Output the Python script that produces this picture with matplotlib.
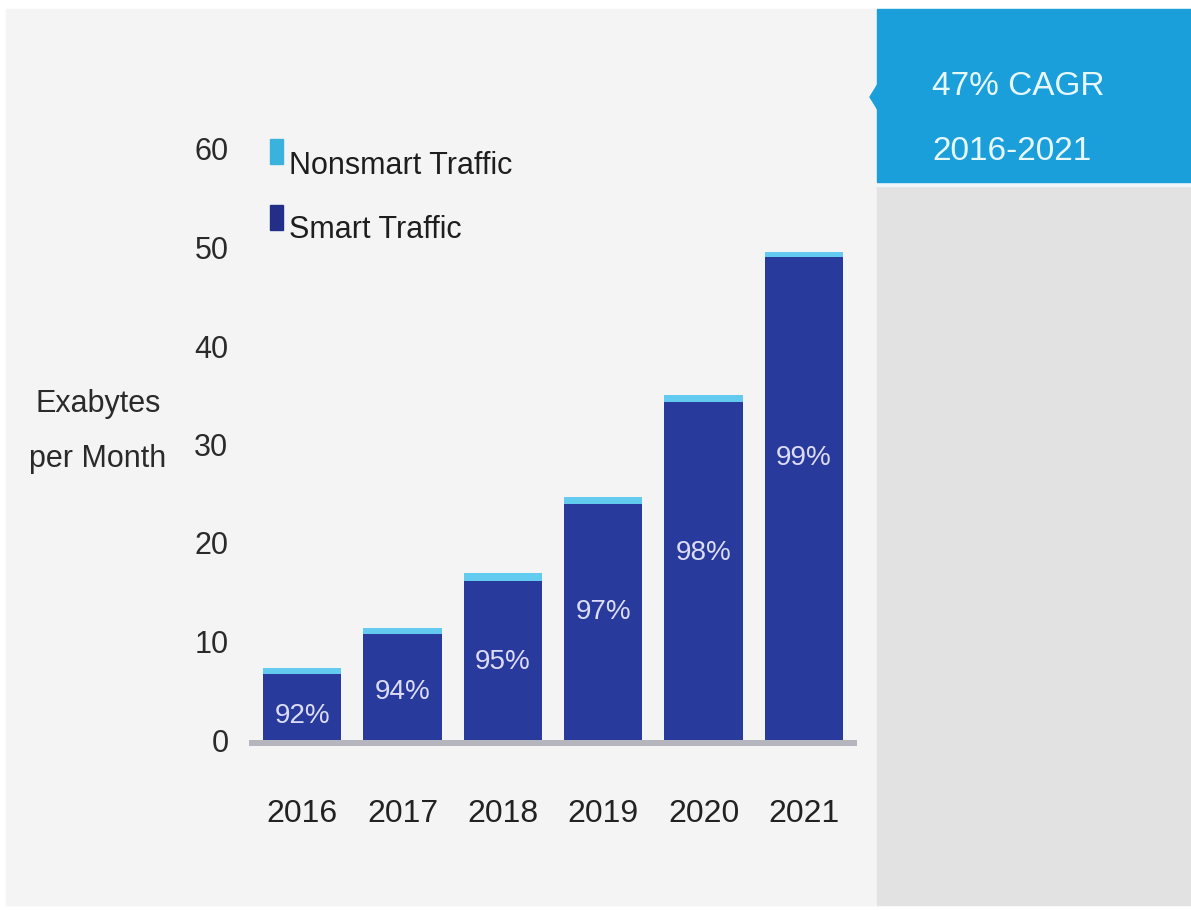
import matplotlib
matplotlib.use("Agg")
import matplotlib.pyplot as plt
from matplotlib.patches import Rectangle, Polygon

# Mobile data traffic, exabytes per month
years = ["2016", "2017", "2018", "2019", "2020", "2021"]
total_traffic = [7.3, 11.4, 17.0, 24.7, 35.0, 49.5]
smart_share_pct = [92, 94, 95, 97, 98, 99]
y_ticks = [0, 10, 20, 30, 40, 50, 60]
legend_labels = ["Nonsmart Traffic", "Smart Traffic"]
cagr_lines = ["47% CAGR", "2016-2021"]

smart = [t * p / 100 for t, p in zip(total_traffic, smart_share_pct)]
nonsmart = [t - s for t, s in zip(total_traffic, smart)]

# vertical placement of the share labels inside each bar (data units)
pct_label_y = [2.4, 4.9, 7.9, 13.0, 19.0, 28.6]

plt.rcParams["font.family"] = ["Liberation Sans", "DejaVu Sans"]

W, H = 1191, 910
fig = plt.figure(figsize=(W / 100, H / 100), dpi=100)
fig.patch.set_facecolor("white")


def fx(px):
    return px / W


def fy(py):
    return 1 - py / H


# background panels
fig.patches.append(Rectangle((fx(6), fy(905)), fx(877 - 6), (905 - 9) / H,
                             transform=fig.transFigure, color="#f4f4f4", zorder=0))
fig.patches.append(Rectangle((fx(877), fy(905)), fx(W - 877), (905 - 186) / H,
                             transform=fig.transFigure, color="#e2e2e2", zorder=0))
fig.patches.append(Rectangle((fx(877), fy(186)), fx(W - 877), 4 / H,
                             transform=fig.transFigure, color="#eef6fb", zorder=0))
fig.patches.append(Rectangle((fx(877), fy(182)), fx(W - 877), (182 - 9) / H,
                             transform=fig.transFigure, color="#1b9fdb", zorder=1))
fig.patches.append(Polygon([(fx(878), fy(84)), (fx(870), fy(97)), (fx(878), fy(110))],
                           closed=True, transform=fig.transFigure, color="#1b9fdb", zorder=1))

fig.text(fx(932), fy(95), cagr_lines[0], color="#e8f8ff", fontsize=24,
         ha="left", va="baseline", zorder=3)
fig.text(fx(932), fy(160), cagr_lines[1], color="#e8f8ff", fontsize=24,
         ha="left", va="baseline", zorder=3)

# chart axes
ax = fig.add_axes([fx(252), fy(740), fx(854 - 252), (740 - 149) / H])
ax.set_zorder(5)
ax.set_facecolor("none")
x = list(range(len(years)))
smart_color = "#283a9b"
nonsmart_color = "#62cbef"

ax.bar(x, smart, width=0.78, color=smart_color, zorder=3)
ax.bar(x, nonsmart, bottom=smart, width=0.78, color=nonsmart_color, zorder=3)
ax.axhline(-0.35, color="#b5b5bd", lw=4.3, zorder=2, clip_on=False)

for xi, yl, p in zip(x, pct_label_y, smart_share_pct):
    ax.text(xi, yl, f"{p}%", color="#dcdcf6", fontsize=20,
            ha="center", va="center", zorder=4)

ax.set_xlim(-0.5, 5.5)
ax.set_ylim(0, 60)
ax.set_yticks(y_ticks)
ax.set_yticklabels([str(v) for v in y_ticks])
ax.set_xticks(x)
ax.set_xticklabels(years)
for s in ax.spines.values():
    s.set_visible(False)
ax.tick_params(axis="y", length=0, pad=17, labelsize=22, labelcolor="#2a2a2a")
ax.tick_params(axis="x", length=0, pad=59, labelsize=23, labelcolor="#222222")
for t in ax.get_xticklabels():
    t.set_va("baseline")

# y-axis title
fig.text(fx(98), fy(412), "Exabytes", fontsize=22, color="#2a2a2a",
         ha="center", va="baseline")
fig.text(fx(98), fy(467), "per Month", fontsize=22, color="#2a2a2a",
         ha="center", va="baseline")

# legend
legend_colors = ["#3ab2dc", "#222e88"]
legend_tops = [139, 205]
legend_baselines = [174, 238]
for lab, col, top, base in zip(legend_labels, legend_colors, legend_tops, legend_baselines):
    fig.patches.append(Rectangle((fx(270), fy(top + 25)), fx(13), 25 / H,
                                 transform=fig.transFigure, color=col, zorder=3))
    fig.text(fx(289), fy(base), lab, fontsize=22, color="#1e1e1e",
             ha="left", va="baseline", zorder=3)

fig.savefig("out.png", dpi=100, facecolor=fig.get_facecolor())
